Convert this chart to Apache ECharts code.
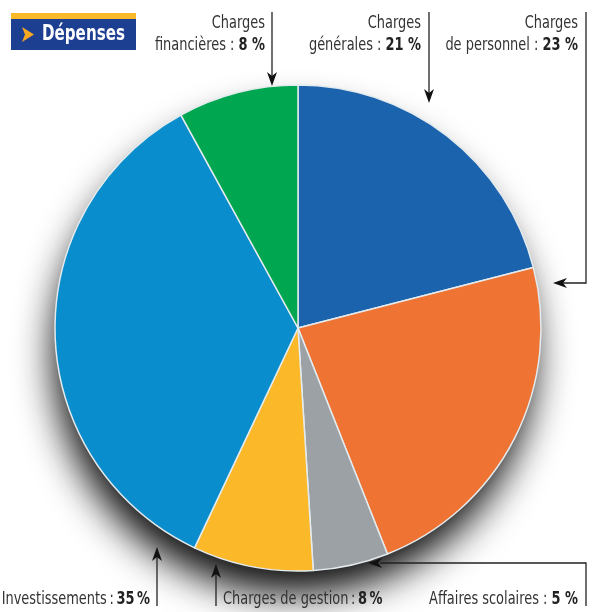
<!DOCTYPE html>
<html><head><meta charset="utf-8">
<script src="https://cdn.jsdelivr.net/npm/echarts@6/dist/echarts.min.js"></script>
<style>html,body{margin:0;padding:0;background:#fff}#c{width:601px;height:612px}</style>
</head><body><div id="c"></div>
<script>
const title = 'Dépenses';
const categories = ['Charges générales', 'Charges de personnel', 'Affaires scolaires', 'Charges de gestion', 'Investissements', 'Charges financières'];
const values = [21, 23, 5, 8, 35, 8];
const labelLines = [
  ['Charges', 'générales'],
  ['Charges', 'de personnel'],
  ['', 'Affaires scolaires'],
  ['', 'Charges de gestion'],
  ['', 'Investissements'],
  ['Charges', 'financières']
];
const colors = ['#1b63ad', '#ef7433', '#9ca1a5', '#fbb829', '#0a8dcd', '#00a650'];

const FONT = "'DejaVu Sans Condensed', 'Liberation Sans Narrow', sans-serif";
const SX = 0.8;
const chart = echarts.init(document.getElementById('c'));

function label(i, x, y, align, tight) {
  const l = labelLines[i];
  const sep = tight ? '\u2009:\u2009' : ' : ';
  const pct = tight ? '\u2009%' : ' %';
  const txt = (l[0] ? l[0] + '\n' : '') + l[1] + sep + '{b|' + values[i] + pct + '}';
  return {
    type: 'text', x: x, y: y, z: 10, scaleX: SX,
    style: {
      text: txt, fill: '#333', fontFamily: FONT, fontSize: 18, lineHeight: 22,
      align: align, verticalAlign: 'top',
      rich: { b: { fontWeight: 'bold', fontFamily: FONT, fontSize: 18, fill: '#222', lineHeight: 22 } }
    }
  };
}
function line(points) {
  return { type: 'polyline', z: 10, shape: { points: points }, style: { stroke: '#222', lineWidth: 1.3, fill: null } };
}
function arrow(tx, ty, dir) {
  let pts;
  const L = 14, W = 5;
  if (dir === 'down') pts = [[tx, ty], [tx - W, ty - L], [tx, ty - L + 4], [tx + W, ty - L]];
  if (dir === 'up') pts = [[tx, ty], [tx - W, ty + L], [tx, ty + L - 4], [tx + W, ty + L]];
  if (dir === 'left') pts = [[tx, ty], [tx + L, ty - W], [tx + L - 4, ty], [tx + L, ty + W]];
  return { type: 'polygon', z: 10, shape: { points: pts }, style: { fill: '#111' } };
}

const graphics = [
  { type: 'rect', shape: { x: 11, y: 13, width: 125, height: 6 }, style: { fill: '#fbb829' } },
  { type: 'rect', shape: { x: 11, y: 19, width: 125, height: 31 }, style: { fill: '#1d3f92' } },
  { type: 'polygon', shape: { points: [[22, 27], [34, 34.5], [22, 42], [25, 34.5]] }, style: { fill: '#f7a823' } },
  { type: 'text', x: 42, y: 35, scaleX: 0.8, style: { text: title, fill: '#fff', fontFamily: FONT, fontWeight: 'bold', fontSize: 21, verticalAlign: 'middle' } },
  label(5, 265, 12, 'right', false), line([[272, 12], [272, 80]]), arrow(272, 86, 'down'),
  label(0, 421, 12, 'right', false), line([[429, 12], [429, 97]]), arrow(429, 103, 'down'),
  label(1, 578, 12, 'right', false), line([[586, 12], [586, 283], [560, 283]]), arrow(553, 283, 'left'),
  label(4, 150, 588, 'right', true), line([[157, 606], [157, 553]]), arrow(157, 547, 'up'),
  label(3, 223, 588, 'left', true), line([[216, 606], [216, 570]]), arrow(216, 564, 'up'),
  label(2, 578, 588, 'right', false), line([[586, 606], [586, 563], [380, 563]]), arrow(368, 563, 'left')
];

chart.setOption({
  animation: false,
  backgroundColor: '#fff',
  graphic: graphics,
  series: [
    {
      type: 'pie', silent: true, center: [298, 328], radius: 240, z: 1,
      label: { show: false }, labelLine: { show: false },
      itemStyle: { color: '#fff', shadowBlur: 38, shadowColor: 'rgba(0,0,0,0.95)', shadowOffsetX: -4, shadowOffsetY: 26 },
      data: [{ value: 1, name: '' }]
    },
    {
      type: 'pie', center: [298, 328], radius: 243, startAngle: 90, clockwise: true, z: 2,
      label: { show: false }, labelLine: { show: false },
      itemStyle: { borderColor: '#e4ebee', borderWidth: 1.5 },
      emphasis: { disabled: true },
      data: categories.map((c, i) => ({ name: c, value: values[i], itemStyle: { color: colors[i] } }))
    }
  ]
});
</script></body></html>
